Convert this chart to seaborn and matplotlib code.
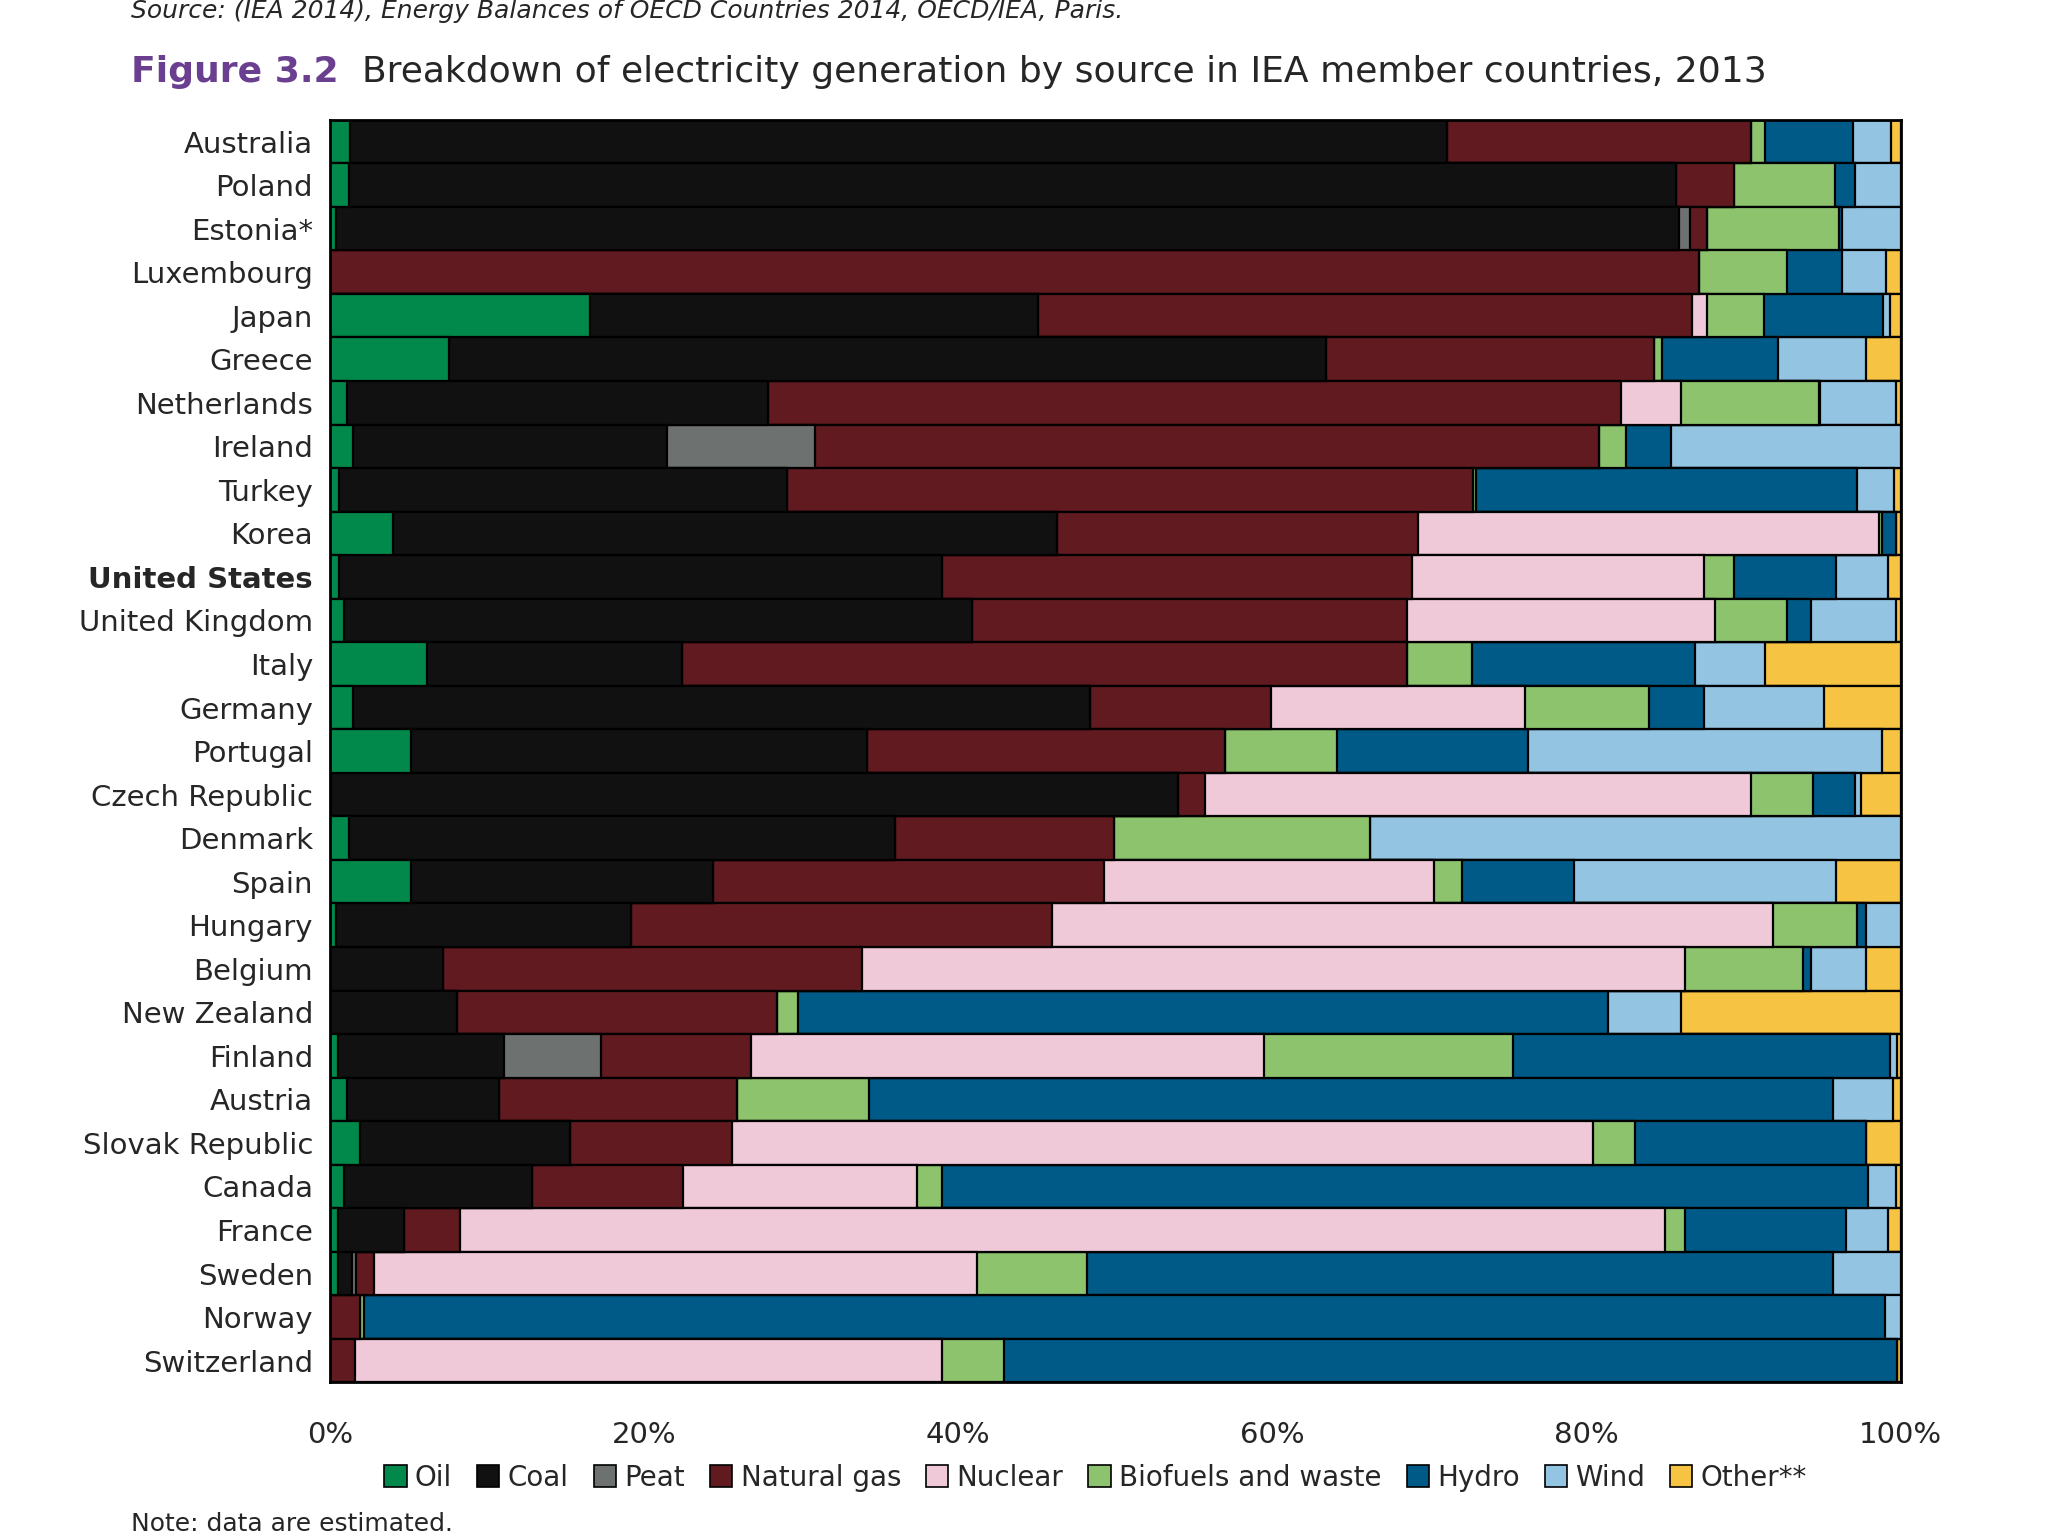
import numpy as np
import pandas as pd
import matplotlib
matplotlib.use("Agg")
import matplotlib.pyplot as plt
import seaborn as sns
from matplotlib.patches import Patch

countries = ["Australia", "Poland", "Estonia*", "Luxembourg", "Japan", "Greece", "Netherlands",
             "Ireland", "Turkey", "Korea", "United States", "United Kingdom", "Italy", "Germany",
             "Portugal", "Czech Republic", "Denmark", "Spain", "Hungary", "Belgium", "New Zealand",
             "Finland", "Austria", "Slovak Republic", "Canada", "France", "Sweden", "Norway",
             "Switzerland"]
sources = ["Oil", "Coal", "Peat", "Natural gas", "Nuclear", "Biofuels and waste", "Hydro", "Wind", "Other**"]
colors = ["#00894a", "#111111", "#6d7170", "#611a1f", "#f0c9d8", "#8cc36c", "#005a87", "#93c5e3", "#f6c342"]

# shares in % : oil, coal, peat, gas, nuclear, biofuels, hydro, wind, other
australia = [1.3, 69.8, 0, 19.4, 0, 0.9, 5.6, 2.4, 0.6]
poland = [1.2, 84.5, 0, 3.7, 0, 6.4, 1.3, 2.9, 0]
estonia = [0.4, 85.5, 0.7, 1.1, 0, 8.4, 0.2, 3.7, 0]
luxembourg = [0, 0, 0, 87.2, 0, 5.6, 3.5, 2.8, 0.9]
japan = [16.6, 28.5, 0, 41.6, 1.0, 3.6, 7.6, 0.4, 0.7]
greece = [7.6, 55.8, 0, 20.9, 0, 0.5, 7.4, 5.6, 2.2]
netherlands = [1.1, 26.8, 0, 54.3, 3.8, 8.8, 0.1, 4.8, 0.3]
ireland = [1.5, 20.0, 9.4, 49.9, 0, 1.7, 2.9, 14.6, 0]
turkey = [0.6, 28.5, 0, 43.7, 0, 0.2, 24.2, 2.4, 0.4]
korea = [4.0, 42.3, 0, 23.0, 29.3, 0.2, 0.9, 0, 0.3]
united_states = [0.6, 38.4, 0, 29.9, 18.6, 1.9, 6.5, 3.3, 0.8]
united_kingdom = [0.9, 40.0, 0, 27.7, 19.6, 4.6, 1.5, 5.4, 0.3]
italy = [6.2, 16.2, 0, 46.2, 0, 4.1, 14.2, 4.5, 8.6]
germany = [1.5, 46.9, 0, 11.5, 16.2, 7.9, 3.5, 7.6, 4.9]
portugal = [5.2, 29.0, 0, 22.8, 0, 7.1, 12.2, 22.5, 1.2]
czech = [0.1, 53.9, 0, 1.7, 34.8, 3.9, 2.7, 0.4, 2.5]
denmark = [1.2, 34.8, 0, 13.9, 0, 16.3, 0, 33.8, 0]
spain = [5.2, 19.2, 0, 24.9, 21.0, 1.8, 7.1, 16.7, 4.1]
hungary = [0.4, 18.8, 0, 26.8, 45.9, 5.3, 0.6, 2.2, 0]
belgium = [0, 7.2, 0, 26.7, 52.4, 7.5, 0.5, 3.5, 2.2]
new_zealand = [0, 8.1, 0, 20.4, 0, 1.3, 51.6, 4.6, 14.0]
finland = [0.5, 10.6, 6.2, 9.5, 32.7, 15.8, 24.0, 0.5, 0.2]
austria = [1.1, 9.7, 0, 15.1, 0, 8.4, 61.4, 3.8, 0.5]
slovak = [1.9, 13.4, 0, 10.3, 54.8, 2.7, 14.7, 0, 2.2]
canada = [0.9, 12.0, 0, 9.6, 14.9, 1.6, 58.9, 1.8, 0.3]
france = [0.5, 4.2, 0, 3.6, 76.7, 1.3, 10.2, 2.7, 0.8]
sweden = [0.5, 0.9, 0.3, 1.1, 38.4, 7.0, 47.5, 4.3, 0]
norway = [0, 0, 0, 1.9, 0, 0.3, 96.8, 1.0, 0]
switzerland = [0, 0, 0, 1.6, 37.4, 3.9, 56.85, 0, 0.25]

rows = [australia, poland, estonia, luxembourg, japan, greece, netherlands, ireland, turkey,
        korea, united_states, united_kingdom, italy, germany, portugal, czech, denmark, spain,
        hungary, belgium, new_zealand, finland, austria, slovak, canada, france, sweden, norway,
        switzerland]

df = pd.DataFrame(rows, index=countries, columns=sources)
df = df.div(df.sum(axis=1), axis=0) * 100
cum = df.cumsum(axis=1)

sns.set_style("white")
font = ["Liberation Sans Narrow", "DejaVu Sans"]
plt.rcParams["font.family"] = font

fig = plt.figure(figsize=(10.24, 7.68), dpi=200)
ax = fig.add_axes([0.161, 0.100, 0.767, 0.822])

# Stacked bars: draw cumulative totals from last source to first
for src, col in zip(reversed(sources), reversed(colors)):
    sns.barplot(x=cum[src].values, y=countries, color=col, orient="h", width=1.0,
                saturation=1, edgecolor="black", linewidth=0.8, ax=ax, order=countries)

ax.set_xlim(0, 100)
ax.set_ylim(len(countries) - 0.5, -0.5)
ax.set_xticks(np.arange(0, 101, 20))
ax.set_xticklabels([f"{v}%" for v in range(0, 101, 20)], fontsize=10.5)
ax.tick_params(axis="x", length=0, pad=14)
ax.tick_params(axis="y", length=0, pad=6)
ax.set_yticks(range(len(countries)))
ax.set_yticklabels(countries, fontsize=10.5)
for lab in ax.get_yticklabels():
    if lab.get_text() == "United States":
        lab.set_fontweight("bold")
ax.set_xlabel("")
ax.set_ylabel("")
for sp in ax.spines.values():
    sp.set_linewidth(1.0)
    sp.set_color("black")

t1 = fig.text(0.064, 0.953, "Figure 3.2", color="#6b3f8f", fontsize=13, fontweight="bold",
              va="center")
ax.annotate("  Breakdown of electricity generation by source in IEA member countries, 2013",
            xy=(1, 0.5), xycoords=t1, va="center", ha="left", fontsize=13)
fig.text(0.064, 0.993, "Source: (IEA 2014), Energy Balances of OECD Countries 2014, OECD/IEA, Paris.",
         fontsize=9, style="italic", va="center")
fig.text(0.064, 0.008, "Note: data are estimated.", fontsize=9, va="center")

handles = [Patch(facecolor=c, edgecolor="black", linewidth=0.6) for c in colors]
fig.legend(handles, sources, loc="center", bbox_to_anchor=(0.535, 0.038), ncol=9, frameon=False,
           handlelength=0.8, handleheight=0.8, handletextpad=0.3, columnspacing=0.9,
           prop={"size": 10})

fig.savefig("out.png", dpi=200)
